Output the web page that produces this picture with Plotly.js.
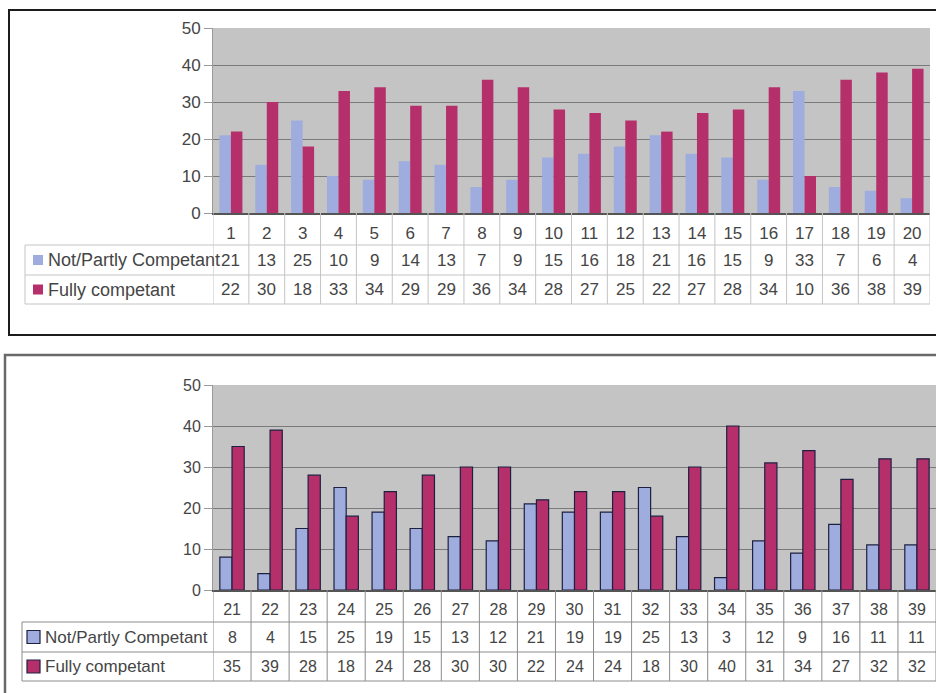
<!DOCTYPE html>
<html>
<head>
<meta charset="utf-8">
<script src="https://cdn.plot.ly/plotly-3.0.1.min.js"></script>
<style>html,body{margin:0;padding:0;background:#fff;}#chart{width:936px;height:693px;}</style>
</head>
<body>
<div id="chart"></div>
<script>
// ---- data ----
const seriesNames = ["Not/Partly Competant", "Fully competant"];
const catsTop = [1,2,3,4,5,6,7,8,9,10,11,12,13,14,15,16,17,18,19,20];
const notTop = [21,13,25,10,9,14,13,7,9,15,16,18,21,16,15,9,33,7,6,4];
const fullyTop = [22,30,18,33,34,29,29,36,34,28,27,25,22,27,28,34,10,36,38,39];
const catsBot = [21,22,23,24,25,26,27,28,29,30,31,32,33,34,35,36,37,38,39];
const notBot = [8,4,15,25,19,15,13,12,21,19,19,25,13,3,12,9,16,11,11];
const fullyBot = [35,39,28,18,24,28,30,30,22,24,24,18,30,40,31,34,27,32,32];
const yTicks = [0,10,20,30,40,50];

// ---- styles ----
const W = 936, H = 693;
const px = v => v / W;
const py = v => 1 - v / H;
const BLUE = "#9eacde", RED = "#b5306a";
const FONT = "Liberation Sans, Arial, sans-serif";
const TXT = "#454545";

const traces = [
  {type:"bar", x:catsTop, y:notTop, name:seriesNames[0], xaxis:"x", yaxis:"y",
   marker:{color:BLUE, line:{width:0}}, showlegend:false, hoverinfo:"skip"},
  {type:"bar", x:catsTop, y:fullyTop, name:seriesNames[1], xaxis:"x", yaxis:"y",
   marker:{color:RED, line:{width:0}}, showlegend:false, hoverinfo:"skip"},
  {type:"bar", x:catsBot, y:notBot, name:seriesNames[0], xaxis:"x2", yaxis:"y2",
   marker:{color:BLUE, line:{width:1.2, color:"#1e2040"}}, showlegend:false, hoverinfo:"skip"},
  {type:"bar", x:catsBot, y:fullyBot, name:seriesNames[1], xaxis:"x2", yaxis:"y2",
   marker:{color:RED, line:{width:1.2, color:"#1e2040"}}, showlegend:false, hoverinfo:"skip"}
];

// panel geometry (pixels)
const P = [
  {cats:catsTop, a:notTop, b:fullyTop, xr:"x", x0:213, x1:930, yTop:28, yAxis:213, rows:[245,275,304], lblX:25, lineCol:"#c4c4c4", keyX:33, keySize:10, keyLine:0, txtX:46, lblSize:18, numSize:17},
  {cats:catsBot, a:notBot, b:fullyBot, xr:"x2", x0:213, x1:936, yTop:385, yAxis:590, rows:[622,652,681], lblX:22, lineCol:"#8c8c8c", keyX:27, keySize:13, keyLine:1.2, txtX:43, lblSize:17, numSize:16}
];

const shapes = [];
const annotations = [];

// frames
shapes.push({type:"rect", xref:"paper", yref:"paper", x0:px(9), x1:px(945), y0:py(335), y1:py(10),
  line:{color:"#1c1c1c", width:2}, layer:"below"});
shapes.push({type:"rect", xref:"paper", yref:"paper", x0:px(5), x1:px(945), y0:py(700), y1:py(355),
  line:{color:"#6a6a6a", width:2.5}, layer:"below"});

P.forEach((p, k) => {
  const lc = {color:p.lineCol, width:1};
  p.cats.forEach((c, i) => {
    shapes.push({type:"line", xref:p.xr, yref:"paper", x0:c-0.5, x1:c-0.5, y0:py(p.yAxis), y1:py(p.rows[2]), line:lc});
  });
  const last = p.cats[p.cats.length-1] + 0.5;
  shapes.push({type:"line", xref:p.xr, yref:"paper", x0:last, x1:last, y0:py(p.yAxis), y1:py(p.rows[2]), line:lc});
  p.rows.forEach(r => {
    shapes.push({type:"line", xref:"paper", yref:"paper", x0:px(p.lblX), x1:px(p.x1), y0:py(r), y1:py(r), line:lc});
  });
  shapes.push({type:"line", xref:"paper", yref:"paper", x0:px(p.lblX), x1:px(p.lblX), y0:py(p.rows[0]), y1:py(p.rows[2]), line:lc});
  [[p.a, BLUE, seriesNames[0]], [p.b, RED, seriesNames[1]]].forEach(([vals, col, nm], j) => {
    const yc = (p.rows[j] + p.rows[j+1]) / 2;
    const h = p.keySize / 2;
    shapes.push({type:"rect", xref:"paper", yref:"paper", x0:px(p.keyX), x1:px(p.keyX + p.keySize),
      y0:py(yc + h), y1:py(yc - h), fillcolor:col,
      line:{width:p.keyLine, color:"#1e2040"}});
    annotations.push({xref:"paper", yref:"paper", x:px(p.txtX), y:py(yc), xanchor:"left", yanchor:"middle",
      text:nm, showarrow:false, font:{family:FONT, size:p.lblSize, color:TXT}});
    vals.forEach((v, i) => {
      annotations.push({xref:p.xr, yref:"paper", x:p.cats[i], y:py(yc), xanchor:"center", yanchor:"middle",
        text:String(v), showarrow:false, font:{family:FONT, size:p.numSize, color:TXT}});
    });
  });
});

function yax(dom, fs) {
  return {domain:dom, range:[0,50], tickvals:yTicks, ticktext:yTicks.map(String),
    showgrid:true, gridcolor:"#7a7a7a", gridwidth:1, zeroline:false,
    showline:true, linecolor:"#9a9a9a", linewidth:1,
    ticks:"outside", ticklen:8, tickcolor:"#9a9a9a",
    tickfont:{family:FONT, size:fs, color:TXT}, fixedrange:true};
}
function xax(dom, cats, anchor, fs) {
  return {domain:dom, range:[cats[0]-0.5, cats[cats.length-1]+0.5], anchor:anchor,
    tickvals:cats, ticktext:cats.map(String), ticks:"", showgrid:false, zeroline:false,
    showline:true, linecolor:"#555", linewidth:1.5,
    tickfont:{family:FONT, size:fs, color:TXT}, ticklabelstandoff:4, fixedrange:true};
}

const layout = {
  width:W, height:H, margin:{l:0, r:0, t:0, b:0},
  paper_bgcolor:"#fff", plot_bgcolor:"#c4c4c4",
  barmode:"group", bargap:0.36, bargroupgap:0,
  showlegend:false,
  xaxis: xax([px(213), px(930)], catsTop, "y", 17),
  yaxis: Object.assign(yax([py(213), py(28)], 17), {anchor:"x"}),
  xaxis2: xax([px(213), 1], catsBot, "y2", 16),
  yaxis2: Object.assign(yax([py(590), py(385)], 16), {anchor:"x2"}),
  shapes: shapes,
  annotations: annotations
};

Plotly.newPlot("chart", traces, layout, {staticPlot:true, displayModeBar:false});
</script>
</body>
</html>
